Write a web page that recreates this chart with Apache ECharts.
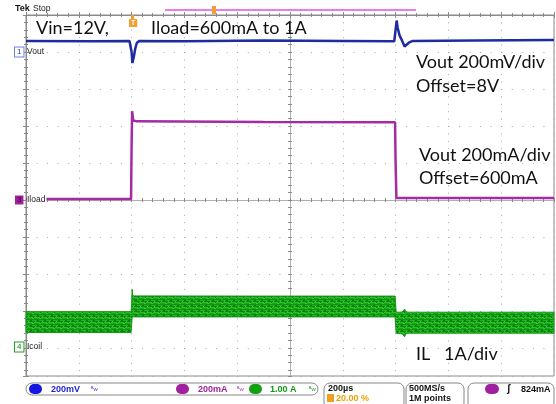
<!DOCTYPE html>
<html><head><meta charset="utf-8">
<script src="https://cdn.jsdelivr.net/npm/echarts@6/dist/echarts.min.js"></script>
<style>html,body{margin:0;padding:0;background:#fff}#c{width:556px;height:404px}</style>
</head><body><div id="c"></div>
<script>
// ---- data (time in µs, trigger at 0) ----
const timeRange = [-400, 1600];
const voutTime   = [-400, -150, -8, 0, 3, 8, 14, 20, 30, 200, 500, 800, 995, 1000, 1004, 1008, 1015, 1025, 1034, 1040, 1050, 1065, 1300, 1600];
const voutValues = [8.06, 8.058, 8.06, 8.0, 7.94, 7.97, 8.02, 8.05, 8.06, 8.058, 8.062, 8.06, 8.058, 8.06, 8.17, 8.13, 8.09, 8.06, 8.03, 8.02, 8.05, 8.06, 8.062, 8.065];
const iloadTime   = [-400, -2, 0, 2, 6, 20, 500, 990, 998, 1000, 1003, 1010, 1600];
const iloadValues = [0.605, 0.605, 0.9, 1.08, 1.03, 1.025, 1.022, 1.02, 1.02, 0.8, 0.61, 0.608, 0.61];
const icoilTime  = [-400, -2, 0, 2, 4, 10, 500, 998, 1000, 1002, 1010, 1025, 1034, 1040, 1050, 1600];
const icoilUpper = [0.98, 0.98, 1.2, 1.58, 1.42, 1.405, 1.40, 1.40, 1.2, 0.965, 0.965, 0.97, 1.05, 0.97, 0.965, 0.965];
const icoilLower = [0.414, 0.414, 0.6, 0.838, 0.838, 0.838, 0.838, 0.838, 0.6, 0.397, 0.39, 0.38, 0.30, 0.39, 0.397, 0.397];
// channel scales: value at marker, per-div, marker row (divs from top)
const chVout  = {offset: 8.0, perDiv: 0.2, row: 1};
const chIload = {offset: 0.6, perDiv: 0.2, row: 5};
const chIcoil = {offset: 0.0, perDiv: 1.0, row: 9};
const rowsVisible = 9.76;
const statusTexts = {ch1: '200mV', ch3: '200mA', ch4: '1.00 A', timebase: '200µs', trigPos: '20.00 %', rate: '500MS/s', points: '1M points', trigLevel: '824mA'};

function axisRange(ch){ return {top: ch.offset + ch.row*ch.perDiv, bottom: ch.offset - (rowsVisible-ch.row)*ch.perDiv}; }
const zip = (a,b)=>a.map((t,i)=>[t,b[i]]);

const pc = document.createElement('canvas'); pc.width = 7; pc.height = 5;
const g = pc.getContext('2d');
['#22b322','#0c880c','#2cbd2c','#17a317','#0f940f'].forEach((c,i)=>{g.fillStyle=c; g.fillRect(0,i,7,1);});
g.fillStyle='#0a7a0a'; g.fillRect(2,0,2,1); g.fillRect(5,2,1,1);
g.fillStyle='#3ac83a'; g.fillRect(0,1,1,1); g.fillRect(4,3,2,1);

const GRID = {left: 26, top: 15, width: 528, height: 361};
const gray = '#8a8a8a';
const dot = '#a8a8a8';

const font = 'Lato';
const sb = 'Liberation Sans';
function txt(x,y,s,size,color,extra){ return {type:'text', x:x, y:y, z:100, style:Object.assign({text:s, fill:color||'#111', fontSize:size, fontFamily:font, verticalAlign:'middle'}, extra||{})}; }

const vR = axisRange(chVout), iR = axisRange(chIload), cR = axisRange(chIcoil);

function renderBand(params, api){
  if (params.dataIndex !== 0) return null;
  const pts = [];
  for (let i=0;i<icoilTime.length;i++) pts.push(api.coord([icoilTime[i], icoilUpper[i]]));
  for (let i=icoilTime.length-1;i>=0;i--) pts.push(api.coord([icoilTime[i], icoilLower[i]]));
  return {type:'polygon', shape:{points:pts}, style:{fill:{image:pc, repeat:'repeat'}, stroke:'#129812', lineWidth:1}};
}

const option = {
  animation: false,
  backgroundColor: '#fff',
  grid: Object.assign({show: true, borderColor: gray, borderWidth: 1, backgroundColor: '#fff'}, GRID),
  xAxis: [
    {type:'value', position:'bottom', min:0, max:10, interval:1, axisLabel:{show:false},
     axisLine:{show:true, lineStyle:{color:gray}}, axisTick:{show:true, inside:true, length:3, lineStyle:{color:gray}},
     minorTick:{show:true, splitNumber:5, length:2, lineStyle:{color:gray}},
     splitLine:{show:true, lineStyle:{color:dot, width:1, type:[1,6.4]}}},
    {type:'value', position:'top', min:0, max:10, interval:1, axisLabel:{show:false},
     axisLine:{show:true, lineStyle:{color:gray}}, axisTick:{show:true, inside:true, length:3, lineStyle:{color:gray}},
     minorTick:{show:true, splitNumber:5, length:2, lineStyle:{color:gray}}, splitLine:{show:false}},
    {type:'value', position:'top', offset:-185, min:0, max:10, interval:0.2, axisLabel:{show:false},
     axisLine:{show:true, onZero:false, lineStyle:{color:'#b0b0b0'}}, axisTick:{show:true, inside:true, length:2, lineStyle:{color:gray}}, splitLine:{show:false}},
    {type:'value', position:'top', offset:-185, min:0, max:10, interval:0.2, axisLabel:{show:false},
     axisLine:{show:false}, axisTick:{show:true, inside:false, length:2, lineStyle:{color:gray}}, splitLine:{show:false}},
    {type:'value', show:false, min:timeRange[0], max:timeRange[1]}
  ],
  yAxis: [
    {type:'value', position:'left', inverse:true, min:0, max:rowsVisible, interval:1, axisLabel:{show:false},
     axisLine:{show:true, lineStyle:{color:gray}}, axisTick:{show:true, inside:true, length:3, lineStyle:{color:gray}},
     minorTick:{show:true, splitNumber:5, length:2, lineStyle:{color:gray}},
     splitLine:{show:true, lineStyle:{color:dot, width:1, type:[1,9.56]}}},
    {type:'value', position:'right', inverse:true, min:0, max:rowsVisible, interval:1, axisLabel:{show:false},
     axisLine:{show:true, lineStyle:{color:gray}}, axisTick:{show:true, inside:true, length:3, lineStyle:{color:gray}},
     minorTick:{show:true, splitNumber:5, length:2, lineStyle:{color:gray}}, splitLine:{show:false}},
    {type:'value', position:'left', offset:-264, inverse:true, min:0, max:rowsVisible, interval:0.2, axisLabel:{show:false},
     axisLine:{show:true, onZero:false, lineStyle:{color:'#b0b0b0'}}, axisTick:{show:true, inside:true, length:2, lineStyle:{color:gray}}, splitLine:{show:false}},
    {type:'value', position:'left', offset:-264, inverse:true, min:0, max:rowsVisible, interval:0.2, axisLabel:{show:false},
     axisLine:{show:false}, axisTick:{show:true, inside:false, length:2, lineStyle:{color:gray}}, splitLine:{show:false}},
    {type:'value', show:false, min:vR.bottom, max:vR.top},
    {type:'value', show:false, min:iR.bottom, max:iR.top},
    {type:'value', show:false, min:cR.bottom, max:cR.top}
  ],
  series: [
    {type:'custom', name:'Icoil', xAxisIndex:4, yAxisIndex:6, silent:true, renderItem:renderBand,
     data: icoilTime.map((t,i)=>[t, icoilLower[i], icoilUpper[i]]), encode:{x:0, y:[1,2]}, z:3},
    {type:'line', name:'Iload', xAxisIndex:4, yAxisIndex:5, symbol:'none', silent:true,
     data: zip(iloadTime, iloadValues), lineStyle:{width:2.5, color:'#a52aa5'}, z:4},
    {type:'line', name:'Vout', xAxisIndex:4, yAxisIndex:4, symbol:'none', silent:true,
     data: zip(voutTime, voutValues), lineStyle:{width:2.5, color:'#1f2c9e'}, z:5}
  ],
  graphic: [
    // header
    txt(15, 9, 'Tek', 9, '#111', {fontFamily:sb, fontWeight:'bold'}),
    txt(33, 9, 'Stop', 8.5, '#222', {fontFamily:sb}),
    {type:'line', z:100, shape:{x1:165, y1:10, x2:416, y2:10}, style:{stroke:'#e050e0', lineWidth:1.5}},
    {type:'rect', z:101, shape:{x:212, y:6, width:4, height:8}, style:{fill:'#f0a030'}},
    // trigger marker
    {type:'rect', z:101, shape:{x:131, y:15, width:3, height:4}, style:{fill:'#f0a030'}},
    txt(129, 23, 'T', 7, '#fff', {fontFamily:sb, fontWeight:'bold', backgroundColor:'#f0a030', padding:[1,2,0,2]}),
    // annotations
    txt(36, 28, 'Vin=12V,', 18),
    txt(151, 28, 'Iload=600mA to 1A', 18),
    txt(416, 62, 'Vout 200mV/div', 18),
    txt(416, 86, 'Offset=8V', 18),
    txt(419, 155, 'Vout 200mA/div', 18),
    txt(419, 178, 'Offset=600mA', 18),
    txt(416, 354, 'IL   1A/div', 18),
    // channel markers
    txt(15, 52, '1', 8, '#2a3ab0', {fontFamily:sb, borderColor:'#7080e0', borderWidth:1, padding:[1,2,0,2], backgroundColor:'#fff'}),
    txt(27, 52, 'Vout', 8.5, '#222', {fontFamily:sb}),
    txt(15, 200, '3', 8, '#300030', {fontFamily:sb, backgroundColor:'#a020a0', padding:[1,2,0,2]}),
    txt(27, 200, 'Iload', 8.5, '#222', {fontFamily:sb, backgroundColor:'#fff', padding:[0,1,0,0]}),
    txt(15, 347, '4', 8, '#108010', {fontFamily:sb, borderColor:'#20a020', borderWidth:1, padding:[1,2,0,2], backgroundColor:'#fff'}),
    txt(27, 347, 'Icoil', 8.5, '#222', {fontFamily:sb}),
    // status bar
    {type:'rect', z:100, shape:{x:26, y:383, width:292, height:12, r:6}, style:{fill:'#fff', stroke:'#888', lineWidth:1}},
    {type:'rect', z:101, shape:{x:29, y:384, width:13, height:10, r:5}, style:{fill:'#1515e0'}},
    txt(33, 389.5, '1', 8, '#000040', {fontFamily:sb, fontWeight:'bold'}),
    txt(51, 389.5, statusTexts.ch1, 9, '#2222cc', {fontFamily:sb, fontWeight:'bold'}),
    txt(91, 389.5, 'ᴮw', 6, '#4444dd', {fontFamily:sb}),
    {type:'rect', z:101, shape:{x:176, y:384, width:13, height:10, r:5}, style:{fill:'#a020a0'}},
    txt(180, 389.5, '3', 8, '#300030', {fontFamily:sb, fontWeight:'bold'}),
    txt(198, 389.5, statusTexts.ch3, 9, '#a020a0', {fontFamily:sb, fontWeight:'bold'}),
    txt(237, 389.5, 'ᴮw', 6, '#b040b0', {fontFamily:sb}),
    {type:'rect', z:101, shape:{x:249, y:384, width:13, height:10, r:5}, style:{fill:'#12a012'}},
    txt(253, 389.5, '4', 8, '#003000', {fontFamily:sb, fontWeight:'bold'}),
    txt(270, 389.5, statusTexts.ch4, 9, '#109a10', {fontFamily:sb, fontWeight:'bold'}),
    txt(309, 389.5, 'ᴮw', 6, '#20a020', {fontFamily:sb}),
    {type:'rect', z:100, shape:{x:324, y:383, width:80, height:26, r:6}, style:{fill:'#fff', stroke:'#888', lineWidth:1}},
    txt(328, 389, statusTexts.timebase, 9, '#111', {fontFamily:sb, fontWeight:'bold'}),
    {type:'rect', z:101, shape:{x:327, y:394, width:7, height:8}, style:{fill:'#f0a020'}},
    txt(328.5, 398.5, 'T', 7, '#fff', {fontFamily:sb, fontWeight:'bold'}),
    txt(336, 398.5, statusTexts.trigPos, 9, '#f0a000', {fontFamily:sb, fontWeight:'bold'}),
    {type:'rect', z:100, shape:{x:406, y:383, width:58, height:26, r:6}, style:{fill:'#fff', stroke:'#888', lineWidth:1}},
    txt(409, 389, statusTexts.rate, 9, '#111', {fontFamily:sb, fontWeight:'bold'}),
    txt(409, 399, statusTexts.points, 9, '#111', {fontFamily:sb, fontWeight:'bold'}),
    {type:'rect', z:100, shape:{x:468, y:383, width:86, height:26, r:6}, style:{fill:'#fff', stroke:'#888', lineWidth:1}},
    {type:'rect', z:101, shape:{x:485, y:384, width:14, height:10, r:5}, style:{fill:'#a020a0'}},
    txt(489.5, 389.5, '3', 8, '#300030', {fontFamily:sb, fontWeight:'bold'}),
    txt(507, 389.5, 'ʃ', 10, '#111', {fontFamily:sb, fontWeight:'bold'}),
    txt(521, 389.5, statusTexts.trigLevel, 9, '#111', {fontFamily:sb, fontWeight:'bold'})
  ]
};
const chart = echarts.init(document.getElementById('c'), null, {renderer:'canvas'});
chart.setOption(option);
</script></body></html>
